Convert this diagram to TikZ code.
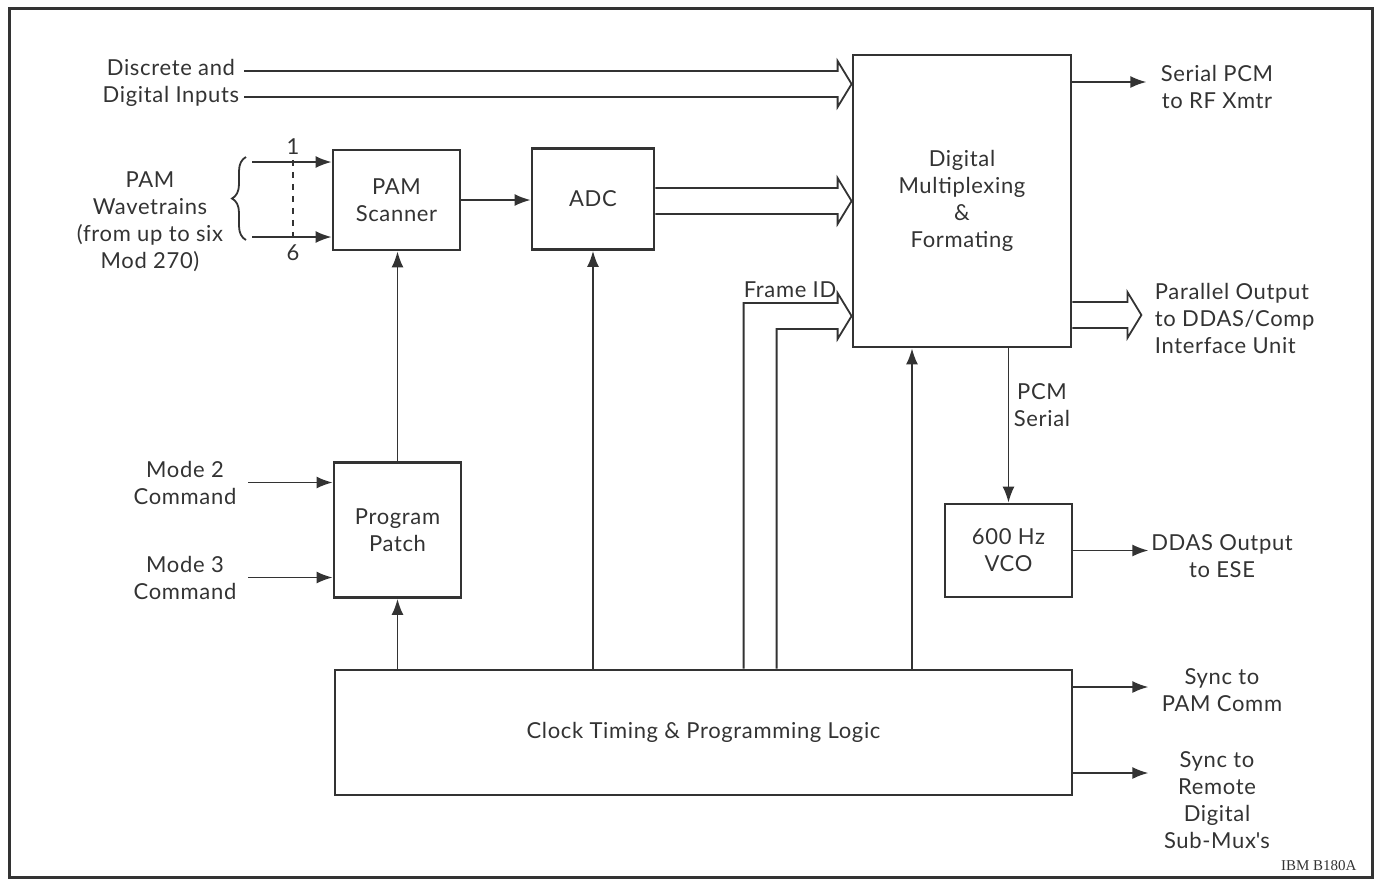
\documentclass[tikz,border=0pt]{standalone}
\usepackage{fontspec}
\setmainfont{Lato}[LetterSpace=3]
\newfontfamily\tagfont{Liberation Serif}
\usetikzlibrary{arrows.meta,calc,decorations.pathreplacing}

% wide hollow arrow for parallel lines
\newcommand{\busarrow}[2]{%
\draw let \p1=(#1),\p2=(#2) in (\x1,\y2+6.5pt) -- (\x2-7pt,\y2+6.5pt) -- (\x2-7pt,\y2+11.5pt) -- (\x2,\y2)
  -- (\x2-7pt,\y2-11.5pt) -- (\x2-7pt,\y2-6.5pt) -- (\x1,\y2-6.5pt);}

\begin{document}
\begin{tikzpicture}[x=0.5pt,y=-0.5pt,>={Latex[length=8pt,width=6pt]},line width=0.9pt,color=black!80,
  font=\fontsize{11}{13.5}\selectfont,line join=miter,
  box/.style={draw,line width=1.4pt,align=center,inner sep=0pt},
  txt/.style={align=center,inner sep=2pt}]
\useasboundingbox (0,0) rectangle (1378,880);
\draw[line width=1.5pt] (9,8) rectangle (1372,877);

% blocks
\node[box,minimum width=109pt,minimum height=146pt] (mux) at (962,201) {Digital\\Multiplexing\\\&\\Formating};
\node[box,minimum width=63.5pt,minimum height=50pt] (scan) at (396.5,200) {PAM\\Scanner};
\node[box,minimum width=61pt,minimum height=50.5pt] (adc) at (593,199) {ADC};
\node[box,minimum width=63.5pt,minimum height=67.5pt] (patch) at (397.5,530) {Program\\Patch};
\node[box,minimum width=368.5pt,minimum height=62.5pt] (clock) at (703.5,732.5) {Clock Timing \& Programming Logic};
\node[box,minimum width=63.5pt,minimum height=46.5pt] (vco) at (1008.5,550.5) {600 Hz\\VCO};

% labels
\node[txt,anchor=east] (disc) at (244,83) {Discrete and\\Digital Inputs};
\node[txt] (pam) at (150,222) {PAM\\Wavetrains\\(from up to six\\Mod 270)};
\node[txt] (mode2) at (185,483) {Mode 2\\Command};
\node[txt] (mode3) at (185,578) {Mode 3\\Command};
\node[txt] (ch1) at (293,147) {1};
\node[txt] (ch6) at (293,253) {6};
\node[txt] (fid) at (790,290) {Frame ID};
\node[txt] (pcm) at (1042,405) {PCM\\Serial};
\node[txt] (serial) at (1217,87) {Serial PCM\\to RF Xmtr};
\node[txt,align=left,anchor=west] (par) at (1150,318) {Parallel Output\\to DDAS/Comp\\Interface Unit};
\node[txt] (ddas) at (1222,556) {DDAS Output\\to ESE};
\node[txt] (sync1) at (1222,690) {Sync to\\PAM Comm};
\node[txt] (sync2) at (1217,800) {Sync to\\Remote\\Digital\\Sub-Mux\textquotesingle s};
\node[font=\tagfont\fontsize{7.5}{8}\selectfont,anchor=east] (tag) at (1364,866) {IBM B180A};

% PAM inputs
\draw[<-] ($(scan.west)+(0,-38)$) -- ++(-80,0);
\draw[<-] ($(scan.west)+(0,37)$) -- ++(-80,0);
\draw[dashed] (ch1) -- (ch6);
\draw[decorate,decoration={brace,amplitude=7pt}] (246,240) -- (246,157);
\draw[<-] ($(patch.west)+(0,-47.5)$) -- ++(-85,0);
\draw[<-] ($(patch.west)+(0,47.5)$) -- ++(-85,0);

% signal flow
\draw[->] (scan.east) -- (scan.east -| adc.west);
\draw[->] (patch.north) -- (patch.north |- scan.south);
\draw[->] (patch |- clock.north) -- (patch.south);
\draw[->] (adc |- clock.north) -- (adc.south);
\coordinate (mx) at ($(mux.south)+(-50,0)$);
\draw[->] (mx |- clock.north) -- (mx);
\draw[->] (vco |- mux.south) -- (vco.north);

% buses
\busarrow{disc.east}{$(mux.west)+(0,-117)$}
\busarrow{adc.east}{mux.west}
\busarrow{mux.east}{$(mux.east)+(69,114)$}
\draw let \p1=($(mux.west)+(0,115)$),\p2=($(clock.north west)+(410,0)$),\p3=($(clock.north west)+(443,0)$) in
  (\x2,\y2) -- (\x2,\y1+6.5pt) -- (\x1-7pt,\y1+6.5pt) -- (\x1-7pt,\y1+11.5pt) -- (\x1,\y1)
  -- (\x1-7pt,\y1-11.5pt) -- (\x1-7pt,\y1-6.5pt) -- (\x3,\y1-6.5pt) -- (\x3,\y2);

% outputs
\draw[->] ($(mux.east)+(0,-119)$) -- ++(74,0);
\draw[->] (vco.east) -- ++(75,0);
\draw[->] ($(clock.east)+(0,-45.5)$) -- ++(75,0);
\draw[->] ($(clock.east)+(0,40.5)$) -- ++(75,0);
\end{tikzpicture}
\end{document}
